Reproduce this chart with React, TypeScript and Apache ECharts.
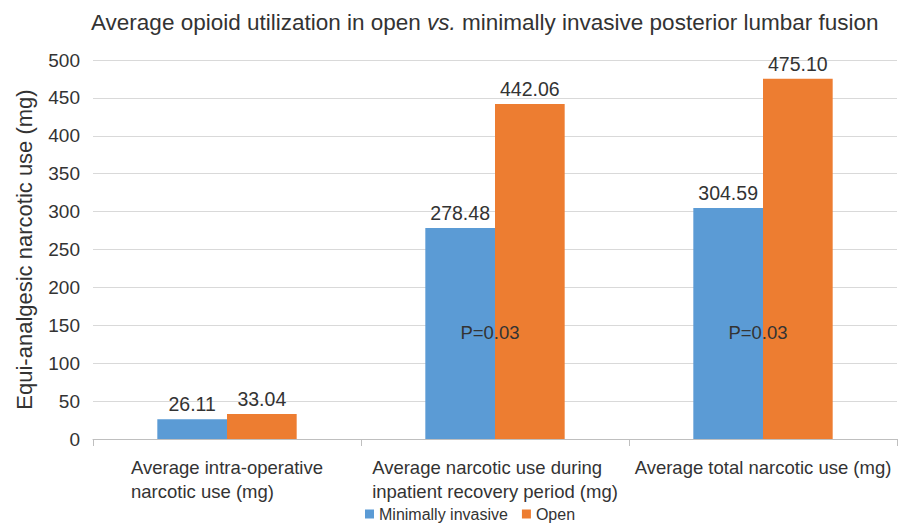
import React, { useEffect, useRef } from "react";
import * as echarts from "echarts";

const categories = [
  "Average intra-operative\nnarcotic use (mg)",
  "Average narcotic use during\ninpatient recovery period (mg)",
  "Average total narcotic use (mg)",
];
const minimallyInvasive = [26.11, 278.48, 304.59];
const openSurgery = [33.04, 442.06, 475.1];
const pLabels = ["", "P=0.03", "P=0.03"];
const pLabelValue = 140;

const FONT = "Liberation Sans, Arial, Helvetica, sans-serif";

export default function App() {
  const ref = useRef<HTMLDivElement>(null);
  useEffect(() => {
    if (!ref.current) return;
    const chart = echarts.init(ref.current, null, { renderer: "svg" });
    chart.setOption({
      animation: false,
      textStyle: { fontFamily: FONT },
      title: {
        text: "{n|Average opioid utilization in open }{i|vs.}{n| minimally invasive posterior lumbar fusion}",
        left: 86,
        top: 6,
        textStyle: {
          rich: {
            n: { fontSize: 22.5, color: "#333", fontWeight: "normal", fontFamily: FONT },
            i: { fontSize: 22.5, color: "#333", fontWeight: "normal", fontStyle: "italic", fontFamily: FONT },
          },
        },
      },
      legend: {
        bottom: -2,
        left: 360,
        itemWidth: 9,
        itemHeight: 9,
        itemGap: 14,
        icon: "rect",
        textStyle: { fontSize: 16, color: "#333", fontFamily: FONT },
        data: ["Minimally invasive", "Open"],
      },
      grid: { left: 93, right: 7, top: 60, bottom: 86 },
      xAxis: {
        type: "category",
        data: categories,
        axisLine: { lineStyle: { color: "#bfbfbf" } },
        axisTick: { show: true, length: 7, lineStyle: { color: "#bfbfbf" } },
        axisLabel: {
          color: "#333",
          margin: 16,
          fontFamily: FONT,
          interval: 0,
          formatter: (v: string) =>
            v
              .split("\n")
              .map((l) => "{a|" + l + "}")
              .join("\n"),
          rich: {
            a: { fontSize: 18.5, color: "#333", lineHeight: 24, align: "left", fontFamily: FONT },
          },
        },
      },
      yAxis: {
        type: "value",
        min: 0,
        max: 500,
        interval: 50,
        name: "Equi-analgesic narcotic use (mg)",
        nameLocation: "middle",
        nameGap: 58,
        nameTextStyle: { fontSize: 22, color: "#333", fontFamily: FONT },
        axisLine: { show: false },
        axisTick: { show: false },
        axisLabel: { fontSize: 19, color: "#333", margin: 13, fontFamily: FONT },
        splitLine: { lineStyle: { color: "#d9d9d9" } },
      },
      series: [
        {
          name: "Minimally invasive",
          type: "bar",
          data: minimallyInvasive,
          itemStyle: { color: "#5B9BD5" },
          barGap: "0%",
          barCategoryGap: "48%",
          label: {
            show: true,
            position: "top",
            fontSize: 19.5,
            color: "#333",
            fontFamily: FONT,
            distance: 5,
            formatter: (p: any) => p.value.toFixed(2),
          },
        },
        {
          name: "Open",
          type: "bar",
          data: openSurgery,
          itemStyle: { color: "#ED7D31" },
          label: {
            show: true,
            position: "top",
            fontSize: 19.5,
            color: "#333",
            fontFamily: FONT,
            distance: 5,
            formatter: (p: any) => p.value.toFixed(2),
          },
        },
      ],
    });
    const graphics: any[] = [];
    pLabels.forEach((t, i) => {
      if (!t) return;
      const pt = chart.convertToPixel({ gridIndex: 0 }, [i, pLabelValue]);
      graphics.push({
        type: "text",
        x: pt[0] - 5,
        y: pt[1],
        z: 100,
        style: {
          text: t,
          fontSize: 18.5,
          fill: "#333",
          fontFamily: FONT,
          align: "center",
          verticalAlign: "middle",
        },
      });
    });
    chart.setOption({ graphic: graphics });
    return () => chart.dispose();
  }, []);
  return <div ref={ref} style={{ width: 904, height: 525, position: "absolute", left: 0, top: 0 }} />;
}
